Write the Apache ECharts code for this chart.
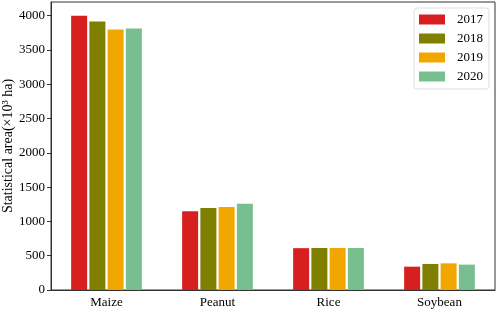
<!DOCTYPE html>
<html>
<head>
<meta charset="utf-8">
<script src="https://cdn.jsdelivr.net/npm/echarts@6/dist/echarts.min.js"></script>
<style>
html, body { margin: 0; padding: 0; background: #fff; }
#chart { width: 498px; height: 309px; }
</style>
</head>
<body>
<div id="chart"></div>
<script>
var crops = ['Maize', 'Peanut', 'Rice', 'Soybean'];
var years = ['2017', '2018', '2019', '2020'];
var area2017 = [4000, 1147, 610, 340];
var area2018 = [3915, 1196, 613, 380];
var area2019 = [3800, 1210, 613, 389];
var area2020 = [3815, 1258, 613, 370];
var colors = ['#d71f1f', '#808000', '#f2a600', '#77bf8f'];

var font = 'Liberation Serif';

function makeSeries(name, values, color) {
    return {
        name: name,
        type: 'bar',
        data: values,
        barWidth: 16,
        barGap: '14%',
        itemStyle: { color: color }
    };
}

var myChart = echarts.init(document.getElementById('chart'));
var option = {
    animation: false,
    textStyle: { fontFamily: font },
    grid: {
        left: 51, right: 3, top: 2, bottom: 19,
        containLabel: false,
        outerBoundsMode: 'none',
        show: true, borderColor: '#333', borderWidth: 1
    },
    legend: {
        data: years,
        orient: 'vertical',
        right: 9,
        top: 8,
        icon: 'rect',
        itemWidth: 26,
        itemHeight: 10,
        itemGap: 6,
        padding: [5, 6, 6, 5],
        borderColor: '#ddd',
        borderWidth: 1,
        borderRadius: 3,
        backgroundColor: '#fff',
        textStyle: { fontFamily: font, fontSize: 13, color: '#000', padding: [0, 0, 0, 7] }
    },
    xAxis: {
        type: 'category',
        data: crops,
        axisTick: { show: false },
        axisLine: { lineStyle: { color: '#333', width: 1 } },
        axisLabel: { fontFamily: font, fontSize: 13, color: '#000', margin: 6 }
    },
    yAxis: {
        type: 'value',
        min: 0,
        max: 4200,
        interval: 500,
        name: 'Statistical area(\u00d710\u00b3 ha)',
        nameLocation: 'middle',
        nameGap: 36,
        nameMoveOverlap: false,
        nameTextStyle: { fontFamily: font, fontSize: 14, color: '#000' },
        axisLine: { show: true, lineStyle: { color: '#333', width: 1 } },
        axisTick: { show: true, length: 4, lineStyle: { color: '#333' } },
        axisLabel: {
            fontFamily: font, fontSize: 13, color: '#000', margin: 6, showMaxLabel: false,
            formatter: function (v) { return String(v); }
        },
        splitLine: { show: false }
    },
    series: [
        makeSeries(years[0], area2017, colors[0]),
        makeSeries(years[1], area2018, colors[1]),
        makeSeries(years[2], area2019, colors[2]),
        makeSeries(years[3], area2020, colors[3])
    ]
};
myChart.setOption(option);
window.addEventListener('resize', function () { myChart.resize(); });
</script>
</body>
</html>
